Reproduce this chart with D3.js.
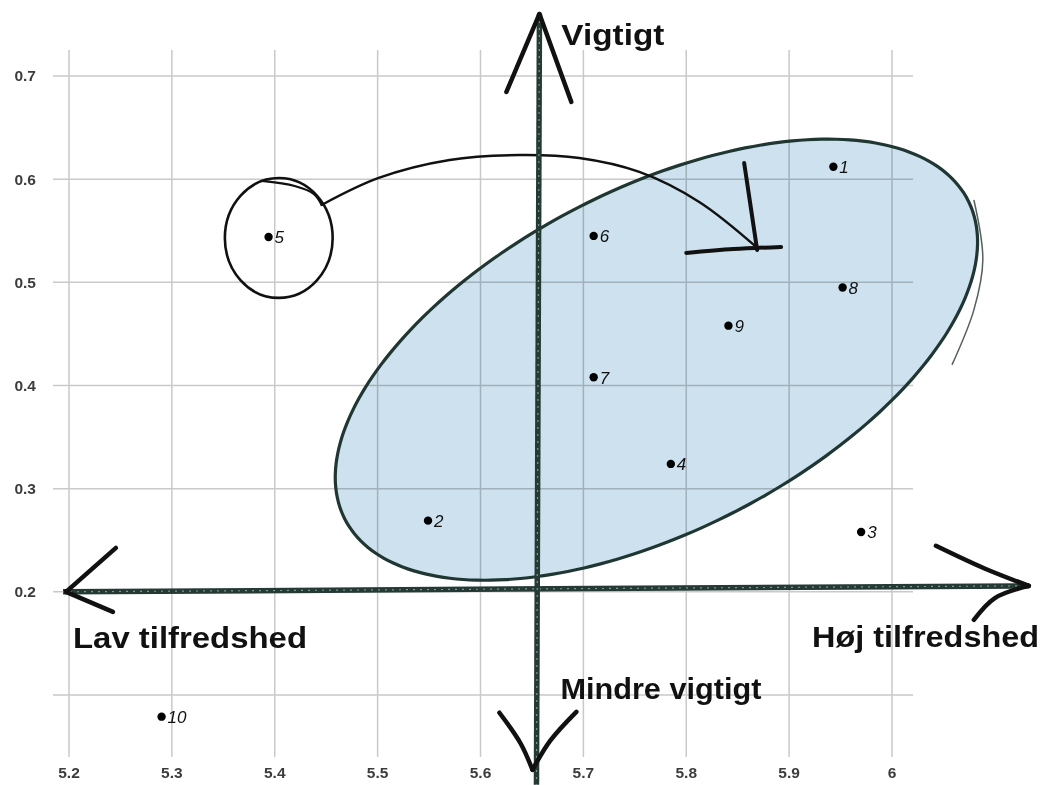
<!DOCTYPE html>
<html>
<head>
<meta charset="utf-8">
<script src="https://cdn.jsdelivr.net/npm/d3@7"></script>
<style>
  body { margin: 0; background: #fff; }
  svg { display: block; }
</style>
</head>
<body>
<svg id="chart" width="1048" height="785"></svg>
<script>
// data
const ids = ["1", "2", "3", "4", "5", "6", "7", "8", "9", "10"];
const satisfaction = [5.943, 5.549, 5.970, 5.785, 5.394, 5.710, 5.710, 5.952, 5.841, 5.290];
const importance = [0.612, 0.269, 0.258, 0.324, 0.544, 0.545, 0.408, 0.495, 0.458, 0.079];

const xTicks = [5.2, 5.3, 5.4, 5.5, 5.6, 5.7, 5.8, 5.9, 6];
const yTicks = [0.1, 0.2, 0.3, 0.4, 0.5, 0.6, 0.7];
const yTickLabels = ["", "0.2", "0.3", "0.4", "0.5", "0.6", "0.7"];

const svg = d3.select("#chart");

const x = d3.scaleLinear().domain([5.2, 6]).range([69, 892]);
const y = d3.scaleLinear().domain([0.1, 0.7]).range([695, 76]);

// ---- grid ----
const grid = svg.append("g").attr("stroke", "#c9c9c9").attr("stroke-width", 1.5);
grid.selectAll("line.h")
  .data(yTicks)
  .join("line")
  .attr("class", "h")
  .attr("x1", x(5.2) - 16).attr("x2", x(6) + 21)
  .attr("y1", d => y(d)).attr("y2", d => y(d));
grid.selectAll("line.v")
  .data(xTicks)
  .join("line")
  .attr("class", "v")
  .attr("x1", d => x(d)).attr("x2", d => x(d))
  .attr("y1", y(0.7) - 26).attr("y2", y(0.1) + 62);

// tick labels
svg.append("g")
  .selectAll("text")
  .data(yTicks)
  .join("text")
  .attr("x", 36)
  .attr("y", d => y(d))
  .attr("dy", "0.35em")
  .attr("text-anchor", "end")
  .attr("font-family", "Liberation Sans, Arial, sans-serif")
  .attr("font-weight", "bold")
  .attr("font-size", 15.5)
  .attr("fill", "#3c3c3c")
  .text((d, i) => yTickLabels[i]);

svg.append("g")
  .selectAll("text")
  .data(xTicks)
  .join("text")
  .attr("x", d => x(d))
  .attr("y", y(0.1) + 78)
  .attr("dy", "0.35em")
  .attr("text-anchor", "middle")
  .attr("font-family", "Liberation Sans, Arial, sans-serif")
  .attr("font-weight", "bold")
  .attr("font-size", 15.5)
  .attr("fill", "#3c3c3c")
  .text(d => d3.format("~g")(d));

// ---- hand drawn ellipse (data units) ----
const ell = { cx: 5.771, cy: 0.4250, a: 0.34, b: 0.166, rot: 27 };
const ellPts = d3.range(0, 360, 3).map(deg => {
  const t = deg * Math.PI / 180, r = ell.rot * Math.PI / 180;
  return [
    ell.cx + ell.a * Math.cos(t) * Math.cos(r) - ell.b * Math.sin(t) * Math.sin(r),
    ell.cy + ell.a * Math.cos(t) * Math.sin(r) + ell.b * Math.sin(t) * Math.cos(r)
  ];
});
const line = d3.line().x(d => x(d[0])).y(d => y(d[1]));
const smooth = d3.line().x(d => x(d[0])).y(d => y(d[1])).curve(d3.curveCatmullRom);
const closed = d3.line().x(d => x(d[0])).y(d => y(d[1])).curve(d3.curveCatmullRomClosed);

svg.append("path")
  .attr("d", closed(ellPts))
  .attr("fill", "#cde1ee")
  .style("mix-blend-mode", "multiply");
svg.append("path")
  .attr("d", closed(ellPts))
  .attr("fill", "none")
  .attr("stroke", "#1f3632")
  .attr("stroke-width", 3.2);

// second pen pass on the right side
const strayStroke = [[6.0796, 0.5798], [6.0883, 0.5217], [6.0796, 0.4733], [6.0583, 0.4200]];
svg.append("path")
  .attr("d", smooth(strayStroke))
  .attr("fill", "none")
  .attr("stroke", "#55605d")
  .attr("stroke-width", 1.5);

// ---- loop around point 5 and curved arrow ----
const loop = { cx: 5.4039, cy: 0.5430, rx: 0.0524, ry: 0.0581 };
svg.append("ellipse")
  .attr("cx", x(loop.cx)).attr("cy", y(loop.cy))
  .attr("rx", x(loop.cx + loop.rx) - x(loop.cx))
  .attr("ry", y(loop.cy) - y(loop.cy + loop.ry))
  .attr("fill", "none")
  .attr("stroke", "#111")
  .attr("stroke-width", 2.6);

const loopTail = [[5.3874, 0.5983], [5.4194, 0.5934], [5.4379, 0.5857], [5.4456, 0.5750]];
const bigCurve = [[5.4456, 0.5750], [5.5010, 0.6012], [5.5699, 0.6186], [5.6379, 0.6234],
  [5.6961, 0.6205], [5.7544, 0.6070], [5.8126, 0.5779], [5.8680, 0.5343]];
const headArm1 = [[5.8563, 0.6157], [5.8631, 0.5702], [5.8689, 0.5314]];
const headArm2 = [[5.8000, 0.5285], [5.8460, 0.5322], [5.8922, 0.5343]];

[[loopTail, 2.2], [bigCurve, 2.4], [headArm1, 4], [headArm2, 4]].forEach(([pts, w]) => {
  svg.append("path")
    .attr("d", smooth(pts))
    .attr("fill", "none")
    .attr("stroke", "#111")
    .attr("stroke-width", w)
    .attr("stroke-linecap", "round");
});

// ---- hand drawn axes ----
const hAxis = [[5.1942, 0.2000], [6.1330, 0.2058]];
const vAxis = [[5.6573, 0.7601], [5.6544, 0.0130]];
[hAxis, vAxis].forEach(pts => {
  svg.append("path")
    .attr("d", line(pts))
    .attr("stroke", "#263a35")
    .attr("stroke-width", 5.5);
  svg.append("path")
    .attr("d", line(pts))
    .attr("stroke", "#7d9793")
    .attr("stroke-width", 1.2)
    .attr("stroke-dasharray", "2 5");
});

// arrow heads: each arm drawn from its free end to the tip
const arms = [
  [[5.2456, 0.2426], [5.1971, 0.2000]],
  [[5.2427, 0.1806], [5.1971, 0.2000]],
  [[6.0427, 0.2446], [6.0900, 0.2226], [6.1330, 0.2058]],
  [[6.0796, 0.1729], [6.1000, 0.1940], [6.1330, 0.2058]],
  [[5.6252, 0.6845], [5.6573, 0.7601]],
  [[5.6883, 0.6748], [5.6573, 0.7601]],
  [[5.6184, 0.0828], [5.6390, 0.0530], [5.6505, 0.0275]],
  [[5.6932, 0.0837], [5.6680, 0.0560], [5.6505, 0.0275]]
];
arms.forEach(pts => {
  svg.append("path")
    .attr("d", smooth(pts))
    .attr("fill", "none")
    .attr("stroke", "#111")
    .attr("stroke-width", 4.5)
    .attr("stroke-linecap", "round");
});

// ---- axis captions ----
const captions = [
  { t: "Vigtigt", x: 5.6786, y: 0.7300, len: 103 },
  { t: "Lav tilfredshed", x: 5.2039, y: 0.1457, len: 234 },
  { t: "Høj tilfredshed", x: 5.9223, y: 0.1467, len: 227 },
  { t: "Mindre vigtigt", x: 5.6777, y: 0.0963, len: 201 }
];
svg.append("g")
  .selectAll("text")
  .data(captions)
  .join("text")
  .attr("x", d => x(d.x))
  .attr("y", d => y(d.y))
  .attr("font-family", "Liberation Sans, Arial, sans-serif")
  .attr("font-weight", "bold")
  .attr("font-size", 29)
  .attr("fill", "#111")
  .attr("textLength", d => d.len)
  .attr("lengthAdjust", "spacingAndGlyphs")
  .text(d => d.t);

// ---- points ----
const pts = ids.map((id, i) => ({ id, sx: satisfaction[i], im: importance[i] }));
const g = svg.append("g");
g.selectAll("circle")
  .data(pts)
  .join("circle")
  .attr("cx", d => x(d.sx))
  .attr("cy", d => y(d.im))
  .attr("r", 4.2)
  .attr("fill", "#000");
g.selectAll("text")
  .data(pts)
  .join("text")
  .attr("x", d => x(d.sx) + 6)
  .attr("y", d => y(d.im))
  .attr("dy", "0.38em")
  .attr("font-family", "Liberation Sans, Arial, sans-serif")
  .attr("font-style", "italic")
  .attr("font-size", 17)
  .attr("fill", "#111")
  .text(d => d.id);
</script>
</body>
</html>
